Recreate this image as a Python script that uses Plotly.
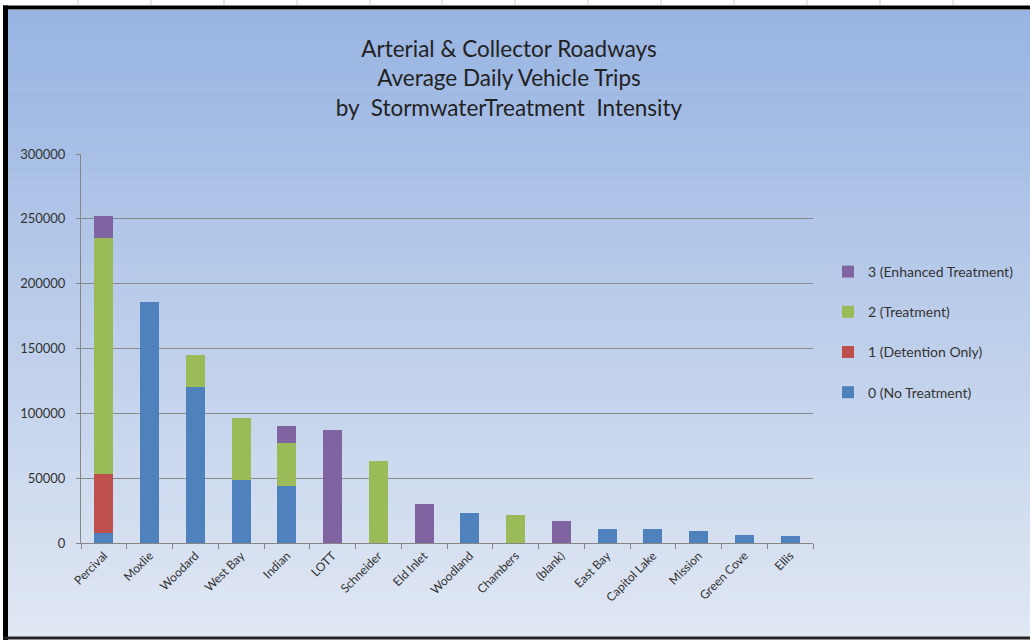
import plotly.graph_objects as go

categories = ["Percival", "Moxlie", "Woodard", "West Bay", "Indian", "LOTT", "Schneider",
              "Eld Inlet", "Woodland", "Chambers", "(blank)", "East Bay", "Capitol Lake",
              "Mission", "Green Cove", "Ellis"]
no_treatment = [8000, 186000, 120500, 48600, 44200, 0, 0, 0, 22900, 0, 0, 10800, 10800, 9000, 6400, 5600]
detention_only = [45000, 0, 0, 0, 0, 0, 0, 0, 0, 0, 0, 0, 0, 0, 0, 0]
treatment = [182000, 0, 24700, 47500, 32700, 0, 63500, 0, 0, 21300, 0, 0, 0, 0, 0, 0]
enhanced = [17500, 0, 0, 0, 13300, 87400, 0, 30100, 0, 0, 17000, 0, 0, 0, 0, 0]

series_names = ["0 (No Treatment)", "1 (Detention Only)", "2 (Treatment)", "3 (Enhanced Treatment)"]
series_values = [no_treatment, detention_only, treatment, enhanced]
series_colors = ["#4F81BD", "#C0504D", "#9BBB59", "#8064A2"]

title_lines = ["Arterial & Collector Roadways", "Average Daily Vehicle Trips",
               "by  StormwaterTreatment  Intensity"]
y_ticks = [0, 50000, 100000, 150000, 200000, 250000, 300000]

W, H = 1030, 640
L, R, T, B = 81, 813, 154, 543


def px(x):
    return (x - L) / (R - L)


def py(y):
    return (B - y) / (B - T)


fig = go.Figure()
for i, (name, vals, col) in enumerate(zip(series_names, series_values, series_colors)):
    fig.add_trace(go.Bar(x=categories, y=vals, name=name, marker=dict(color=col, line=dict(width=0)),
                         legendgroup=name, legendrank=10 - i))

shapes = []
# gradient background
top_c = (152, 180, 226)
bot_c = (224, 231, 243)
n = 80
y0, y1 = 10, 636
for i in range(n):
    t = i / (n - 1)
    c = tuple(int(round(top_c[k] + (bot_c[k] - top_c[k]) * t)) for k in range(3))
    ya = y0 + (y1 - y0) * i / n
    yb = y0 + (y1 - y0) * (i + 1) / n + 0.5
    shapes.append(dict(type="rect", xref="paper", yref="paper", x0=px(8), x1=px(1032),
                       y0=py(ya), y1=py(yb), fillcolor="rgb(%d,%d,%d)" % c,
                       line=dict(width=0), layer="below"))
# top ruler ticks
for xt in [78, 151, 224, 297, 370, 442, 515, 588, 661, 734, 807, 880, 953]:
    shapes.append(dict(type="line", xref="paper", yref="paper", x0=px(xt), x1=px(xt),
                       y0=py(0), y1=py(5), line=dict(color="#D0D0D0", width=1), layer="below"))
# black frame
shapes.append(dict(type="line", xref="paper", yref="paper", x0=px(3), x1=px(1032), y0=py(7.5), y1=py(7.5),
                   line=dict(color="black", width=4), layer="above"))
shapes.append(dict(type="line", xref="paper", yref="paper", x0=px(5.5), x1=px(5.5), y0=py(5.5), y1=py(642),
                   line=dict(color="black", width=5), layer="above"))
shapes.append(dict(type="line", xref="paper", yref="paper", x0=px(3), x1=px(1032), y0=py(638), y1=py(638),
                   line=dict(color="#222222", width=3), layer="above"))

fig.update_layout(
    width=W, height=H,
    margin=dict(l=L, r=W - R, t=T, b=H - B, pad=0, autoexpand=False),
    paper_bgcolor="white",
    plot_bgcolor="rgba(0,0,0,0)",
    barmode="stack",
    bargap=0.585,
    font=dict(family="Lato, Carlito, Calibri, sans-serif", color="#333333", size=12),
    title=dict(text="<br>".join(title_lines), xref="container", x=509 / W, xanchor="center",
               yref="container", y=1 - 57 / H, yanchor="middle",
               font=dict(size=22.5, color="#222222")),
    showlegend=True,
    legend=dict(x=px(828), y=py(256), xanchor="left", yanchor="top", bgcolor="rgba(0,0,0,0)",
                traceorder="grouped", tracegroupgap=19, font=dict(size=14, color="#333333"),
                itemwidth=30),
    shapes=shapes,
    xaxis=dict(showgrid=False, showline=True, linecolor="#868686", linewidth=1,
               ticks="outside", tickson="boundaries", ticklen=5, tickcolor="#868686",
               tickangle=-45, tickfont=dict(size=12, color="#333333"), fixedrange=True),
    yaxis=dict(range=[0, 300000], tickvals=y_ticks, ticktext=[str(v) for v in y_ticks],
               showgrid=True, gridcolor="#8A8A8A", gridwidth=1, showline=True, linecolor="#868686",
               ticks="outside", ticklen=4, tickcolor="#868686", zeroline=False,
               ticklabelstandoff=8,
               tickfont=dict(size=13, color="#333333"), fixedrange=True),
)

fig.write_html("out.html", config={"displayModeBar": False},
               post_script="document.body.style.margin='0';")
